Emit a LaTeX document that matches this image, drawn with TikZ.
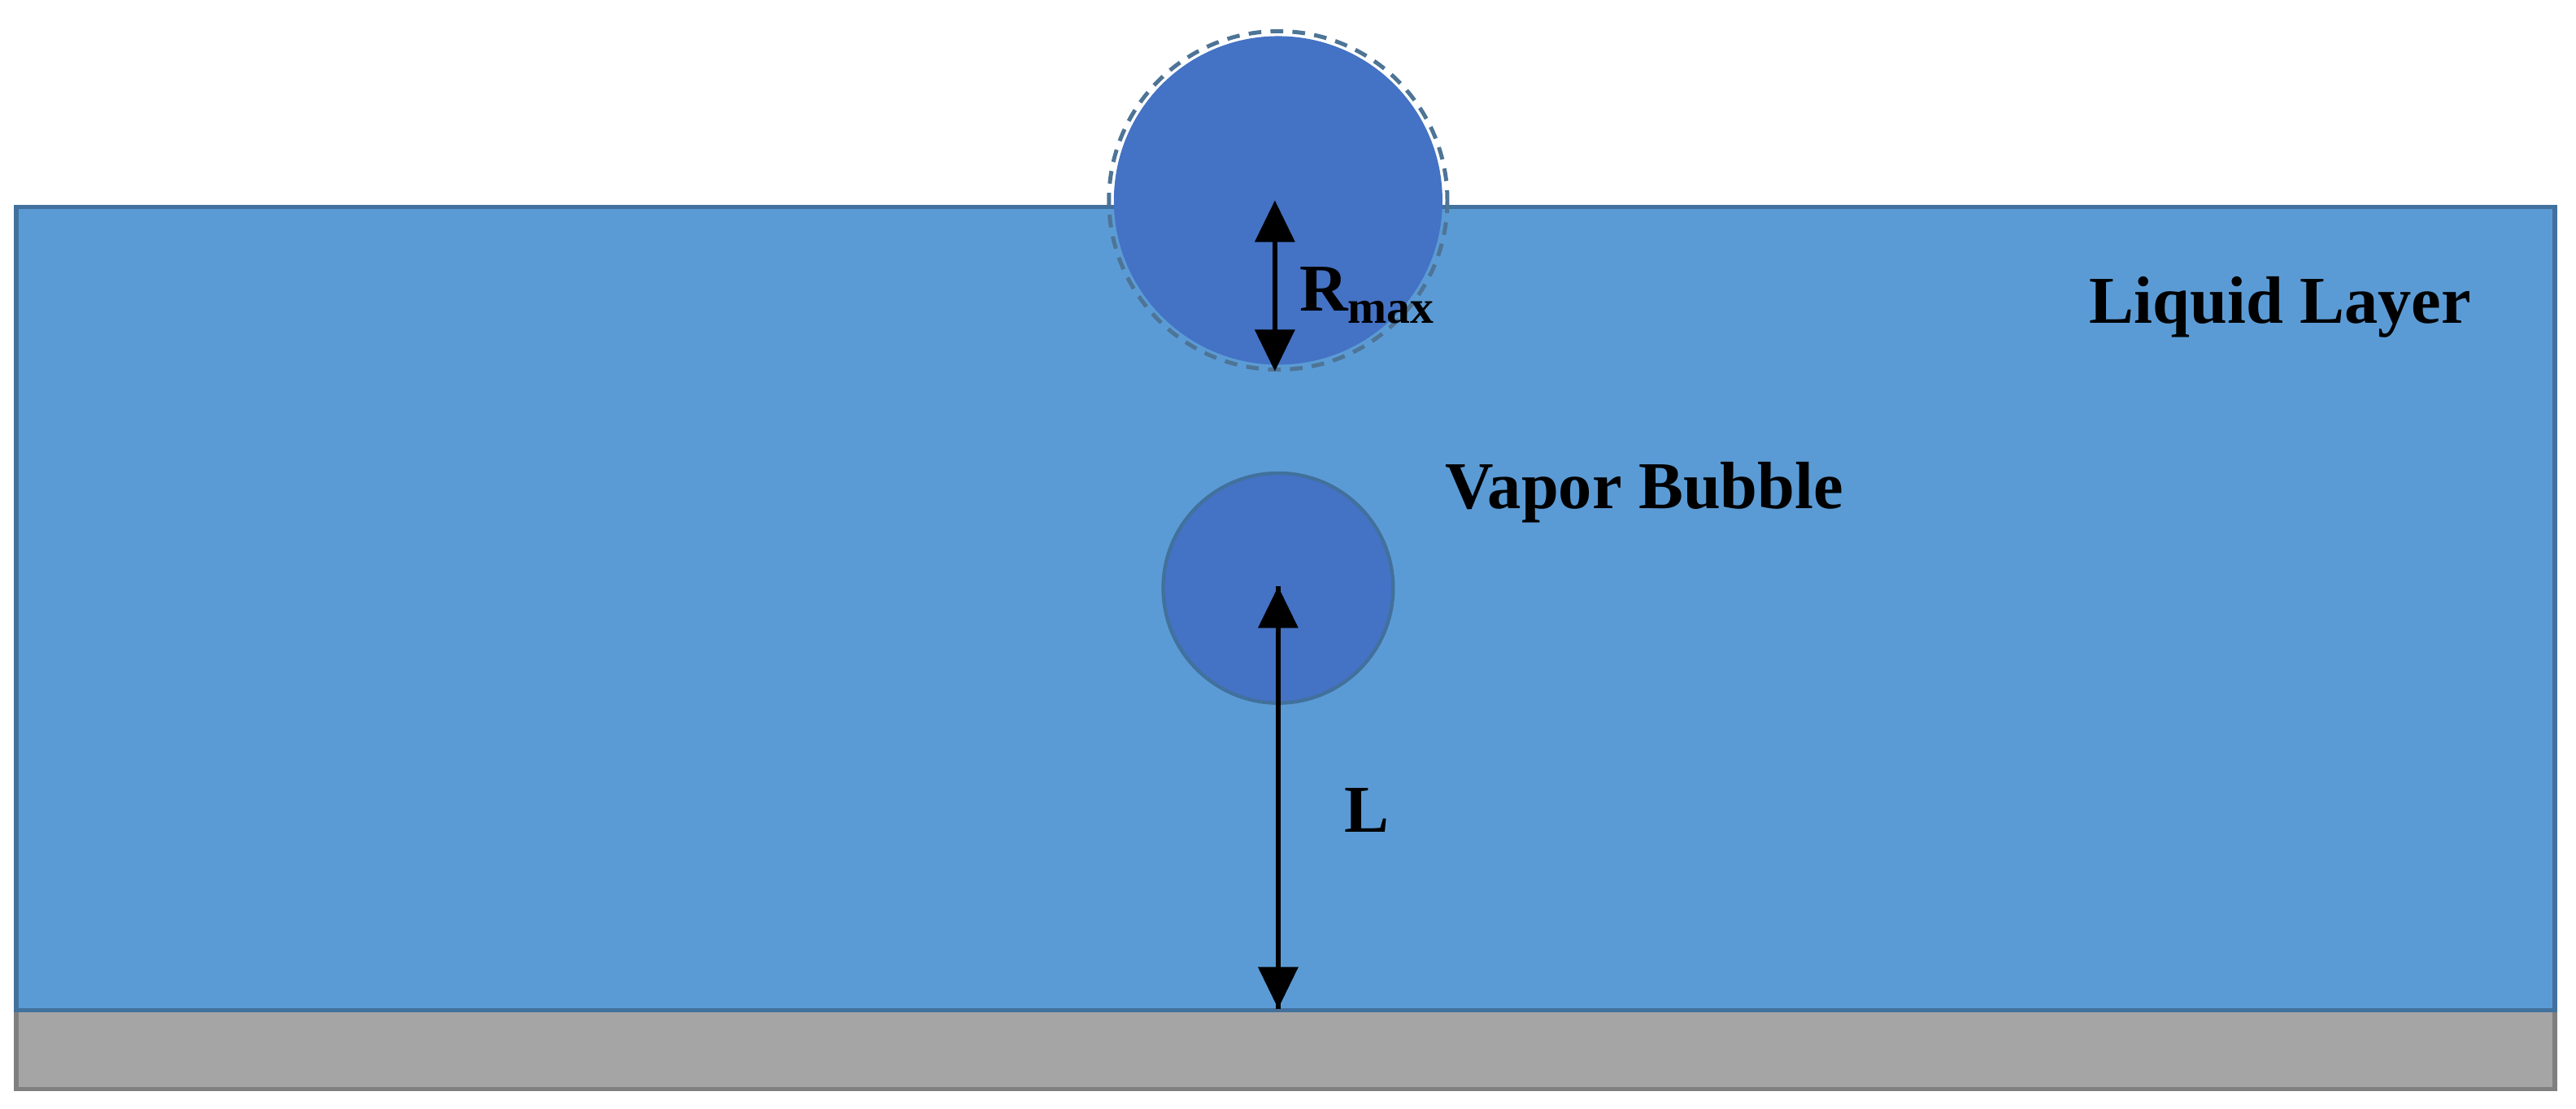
\documentclass[tikz,border=0pt]{standalone}
\usepackage{fontspec}
\setmainfont{Liberation Serif}
\usetikzlibrary{arrows.meta}
\definecolor{liq}{HTML}{5B9BD5}
\definecolor{bub}{HTML}{4472C4}
\definecolor{edge}{HTML}{41719C}
\definecolor{wall}{HTML}{A5A5A5}
\definecolor{walle}{HTML}{7F7F7F}
\begin{document}
\begin{tikzpicture}[x=0.05cm,y=-0.05cm,
  lbl/.style={font=\fontsize{58}{66}\selectfont\bfseries, text=black, inner sep=0},
  tip/.style={-{Triangle[length=36pt,width=34pt]}},
  dim/.style={line width=4pt, {Triangle[length=36pt,width=34pt]}-{Triangle[length=36pt,width=34pt]}}]
\useasboundingbox (0,0) rectangle (1568,675);
\fill[white] (0,0) rectangle (1568,675);
\draw[fill=wall, draw=walle, line width=4pt] (10,615) rectangle (1555,663);
\draw[fill=liq, draw=edge, line width=4pt] (10,126) rectangle (1555,615);
\draw[edge!80!gray, line width=3.5pt, dash pattern=on 11pt off 8pt] (778,122) circle (103);
\fill[bub] (778,122) circle (100);
\draw[fill=bub, draw=edge, line width=3pt] (778,358) circle (70);
\coordinate (rt) at (776,122);
\coordinate (rb) at (776,226);
\coordinate (c2) at (778,357);
\coordinate (base) at (778,614);
\draw[dim] (rt) -- (rb);
\draw[line width=4pt, tip] (base) -- (c2);
\draw[line width=4pt, tip] (c2) -- (base);
\node[lbl, anchor=west] (rmax) at (791,180) {R\textsubscript{max}};
\node[lbl] (liquid) at (1388,187) {Liquid Layer};
\node[lbl] (vapor) at (1001,300) {Vapor Bubble};
\node[lbl] (L) at (832,493) {L};
\end{tikzpicture}
\end{document}
